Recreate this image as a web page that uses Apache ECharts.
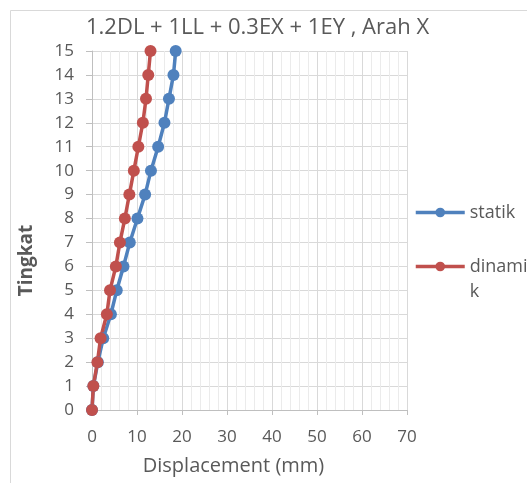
<!DOCTYPE html>
<html><head><meta charset="utf-8">
<script src="https://cdn.jsdelivr.net/npm/echarts@6/dist/echarts.min.js"></script>
<style>html,body{margin:0;padding:0;background:#fff}#c{width:527px;height:483px}</style>
</head><body><div id="c"></div>
<script>
const levels = [0,1,2,3,4,5,6,7,8,9,10,11,12,13,14,15];
const statik = [0,0.3,1.3,2.5,4.2,5.5,7.0,8.4,10.1,11.8,13.1,14.7,16.1,17.1,18.1,18.6];
const dinamik = [0,0.3,1.2,1.9,3.3,4.0,5.3,6.2,7.3,8.3,9.3,10.3,11.3,12.0,12.5,13.0];
const xTicks = [0,10,20,30,40,50,60,70];
const titleText = '1.2DL + 1LL + 0.3EX + 1EY , Arah X';
const FONT = 'Open Sans';
const TXT = '#595959';
const BLUE = '#4F81BD', RED = '#C0504D';

const chart = echarts.init(document.getElementById('c'), null, {renderer:'canvas'});
chart.setOption({
  animation:false,
  backgroundColor:'#fff',
  textStyle:{fontFamily:FONT},
  title:{text:titleText,left:86,top:17,padding:0,textStyle:{fontFamily:FONT,fontSize:22,fontWeight:'normal',color:TXT}},
  graphic:[{type:'rect',shape:{x:10.5,y:10.5,width:600,height:600},style:{fill:'none',stroke:'#d9d9d9',lineWidth:1},silent:true}],
  grid:{left:92,right:120,top:51,bottom:73,outerBoundsMode:'none',containLabel:false},
  legend:[
    {data:['statik'],orient:'vertical',left:414,top:200,padding:0,itemWidth:49,itemHeight:12,itemGap:0,
     lineStyle:{width:3.5},
     textStyle:{fontFamily:FONT,fontSize:18,color:TXT,lineHeight:25}},
    {data:['dinamik'],orient:'vertical',left:414,top:229,padding:0,itemWidth:49,itemHeight:12,itemGap:0,
     lineStyle:{width:3.5},
     formatter:function(){return ' \ndinami\nk';},
     textStyle:{fontFamily:FONT,fontSize:18,color:TXT,lineHeight:25}}
  ],
  xAxis:{type:'value',min:0,max:70,interval:10,
    name:'Displacement (mm)',nameLocation:'middle',nameGap:46,
    nameTextStyle:{fontFamily:FONT,fontSize:20,color:TXT,padding:[0,32,0,0]},
    axisLine:{show:true,lineStyle:{color:'#bfbfbf'}},
    axisTick:{show:true,length:5,lineStyle:{color:'#bfbfbf'}},
    axisLabel:{fontFamily:FONT,fontSize:17,color:TXT,margin:19,
      formatter:function(v){return xTicks.indexOf(v)>=0?String(v):'';}},
    splitLine:{show:true,lineStyle:{color:'#d9d9d9'}},
    minorTick:{show:false,splitNumber:5},
    minorSplitLine:{show:true,lineStyle:{color:'#ebebeb'}}
  },
  yAxis:{type:'value',min:0,max:15,interval:1,
    name:'Tingkat',nameLocation:'middle',nameGap:56,nameRotate:90,
    nameTextStyle:{fontFamily:FONT,fontSize:19,fontWeight:'bold',color:TXT,padding:[0,60,0,0]},
    axisLine:{show:true,lineStyle:{color:'#bfbfbf'}},
    axisTick:{show:true,length:6,lineStyle:{color:'#bfbfbf'}},
    axisLabel:{fontFamily:FONT,fontSize:17,color:TXT,margin:18},
    splitLine:{show:true,lineStyle:{color:'#d9d9d9'}}
  },
  series:[
    {name:'statik',type:'line',data:statik.map((v,i)=>[v,levels[i]]),
     symbol:'circle',symbolSize:12,lineStyle:{width:3.5,color:BLUE},itemStyle:{color:BLUE}},
    {name:'dinamik',type:'line',data:dinamik.map((v,i)=>[v,levels[i]]),
     symbol:'circle',symbolSize:12,lineStyle:{width:3.5,color:RED},itemStyle:{color:RED}}
  ]
});
</script></body></html>
